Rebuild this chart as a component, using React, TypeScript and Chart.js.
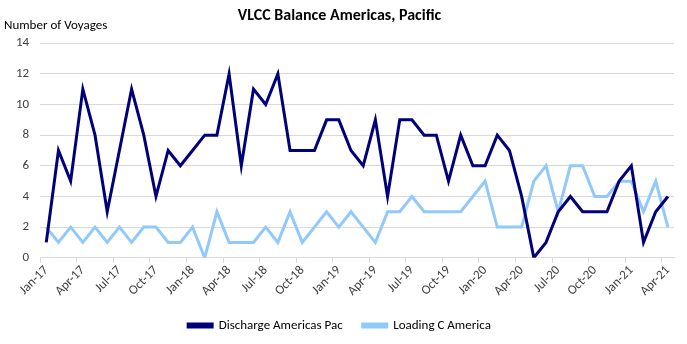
import React, { useEffect, useRef } from "react";
import { Chart, registerables } from "chart.js";

Chart.register(...registerables);

const months: string[] = [
  "Jan-17","Feb-17","Mar-17","Apr-17","May-17","Jun-17","Jul-17","Aug-17","Sep-17","Oct-17","Nov-17","Dec-17",
  "Jan-18","Feb-18","Mar-18","Apr-18","May-18","Jun-18","Jul-18","Aug-18","Sep-18","Oct-18","Nov-18","Dec-18",
  "Jan-19","Feb-19","Mar-19","Apr-19","May-19","Jun-19","Jul-19","Aug-19","Sep-19","Oct-19","Nov-19","Dec-19",
  "Jan-20","Feb-20","Mar-20","Apr-20","May-20","Jun-20","Jul-20","Aug-20","Sep-20","Oct-20","Nov-20","Dec-20",
  "Jan-21","Feb-21","Mar-21","Apr-21",
];

const dischargeAmericasPac: number[] = [
  1, 7, 5, 11, 8, 3, 7, 11, 8, 4, 7, 6,
  7, 8, 8, 12, 6, 11, 10, 12, 7, 7, 7, 9,
  9, 7, 6, 9, 4, 9, 9, 8, 8, 5, 8, 6,
  6, 8, 7, 4, 0, 1, 3, 4, 3, 3, 3, 5,
  6, 1, 3, 4,
];

const loadingCAmerica: number[] = [
  2, 1, 2, 1, 2, 1, 2, 1, 2, 2, 1, 1,
  2, 0, 3, 1, 1, 1, 2, 1, 3, 1, 2, 3,
  2, 3, 2, 1, 3, 3, 4, 3, 3, 3, 3, 4,
  5, 2, 2, 2, 5, 6, 3, 6, 6, 4, 4, 5,
  5, 3, 5, 2,
];

const titleText = "VLCC Balance Americas, Pacific";
const yAxisTitle = "Number of Voyages";
const seriesNames = ["Discharge Americas Pac", "Loading C America"];

const FONT = "Carlito, Lato, 'Liberation Sans', sans-serif";

export default function App() {
  const ref = useRef<HTMLCanvasElement | null>(null);

  useEffect(() => {
    if (!ref.current) return;
    const yTitlePlugin = {
      id: "yTitle",
      afterDraw(chart: any) {
        const ctx = chart.ctx;
        ctx.save();
        ctx.font = `13px ${FONT}`;
        ctx.fillStyle = "#000000";
        ctx.textAlign = "left";
        ctx.textBaseline = "middle";
        ctx.fillText(yAxisTitle, 4, 26);
        ctx.restore();
      },
    };
    const chart = new Chart(ref.current, {
      type: "line",
      data: {
        labels: months,
        datasets: [
          {
            label: seriesNames[0],
            data: dischargeAmericasPac,
            borderColor: "#00007a",
            backgroundColor: "#00007a",
            borderWidth: 3,
            pointRadius: 0,
            tension: 0,
          },
          {
            label: seriesNames[1],
            data: loadingCAmerica,
            borderColor: "#92c9fb",
            backgroundColor: "#92c9fb",
            borderWidth: 3,
            pointRadius: 0,
            tension: 0,
          },
        ],
      },
      options: {
        animation: false,
        responsive: false,
        maintainAspectRatio: false,
        layout: { padding: { top: 4, left: 5, right: 13, bottom: 2 } },
        plugins: {
          title: {
            display: true,
            text: titleText,
            color: "#000000",
            font: { family: FONT, size: 16, weight: "bold" },
            padding: { top: 2, bottom: 18 },
          },
          legend: {
            position: "bottom",
            labels: {
              boxWidth: 24,
              boxHeight: 3,
              color: "#000000",
              padding: 20,
              font: { family: FONT, size: 13 },
            },
          },
          tooltip: { enabled: false },
        },
        scales: {
          x: {
            type: "category",
            offset: true,
            grid: {
              offset: true,
              drawOnChartArea: false,
              drawTicks: true,
              tickLength: 5,
              color: (c: any) => (c.index % 3 === 0 ? "#d9d9d9" : "rgba(0,0,0,0)"),
            },
            border: { display: true, color: "#d9d9d9" },
            ticks: {
              autoSkip: false,
              maxRotation: 45,
              minRotation: 45,
              color: "#404040",
              font: { family: FONT, size: 13 },
              padding: 0,
              callback: (_v: any, i: number) => (i % 3 === 0 ? months[i] : ""),
            },
          },
          y: {
            min: 0,
            max: 14,
            ticks: {
              stepSize: 2,
              color: "#404040",
              font: { family: FONT, size: 13 },
              padding: 11,
            },
            grid: { color: "#d9d9d9", drawTicks: false },
            border: { display: false },
          },
        },
      },
      plugins: [yTitlePlugin],
    } as any);
    return () => chart.destroy();
  }, []);

  return (
    <div style={{ position: "absolute", left: 0, top: 0, width: 687, height: 344, background: "#fff" }}>
      <canvas ref={ref} width={687} height={344} style={{ width: 687, height: 344 }} />
    </div>
  );
}
